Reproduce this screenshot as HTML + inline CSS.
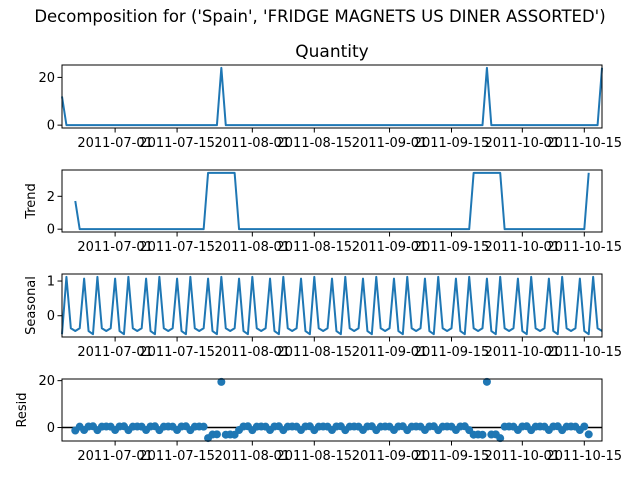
<!DOCTYPE html>
<html><head><meta charset="utf-8"><style>
body{margin:0;background:#fff}
svg{display:block;font-family:"DejaVu Sans","Liberation Sans",sans-serif}
</style></head><body>
<svg id="c" width="640" height="480"></svg>
<script>
const startDate = '2011-06-19';
const numDays = 123;
const obsSpikeIdx = [0, 36, 96, 122];
const obsSpikeVal = [12, 24, 24, 24];
const seasonalPattern = [-0.53, 1.12, -0.36, -0.44, -0.36, 1.07, -0.44];
const trendPeriod = 7;
const tickDates = ['2011-07-01','2011-07-15','2011-08-01','2011-08-15','2011-09-01','2011-09-15','2011-10-01','2011-10-15'];
const obsTicks = [0, 20];
const trendTicks = [0, 2];
const seasTicks = [0, 1];
const residTicks = [0, 20];

const NS='http://www.w3.org/2000/svg';
const svg=document.getElementById('c');
function mk(tag,attrs,parent){const e=document.createElementNS(NS,tag);for(const k in attrs)e.setAttribute(k,attrs[k]);(parent||svg).appendChild(e);return e;}
const dayMs=86400000;
const t0=Date.parse(startDate+'T00:00:00Z');
const obs=[];for(let i=0;i<numDays;i++)obs.push(0);
obsSpikeIdx.forEach((ix,k)=>{obs[ix]=obsSpikeVal[k];});
const half=Math.floor(trendPeriod/2);
const trend=obs.map((v,i)=>{if(i<half||i>=numDays-half)return null;let s=0;for(let j=i-half;j<=i+half;j++)s+=obs[j];return s/trendPeriod;});
const seas=obs.map((v,i)=>seasonalPattern[i%7]);
const resid=obs.map((v,i)=>trend[i]===null?null:v-trend[i]-seas[i]);

const L=62,R=602;
const xS=i=>L+i*(R-L)/(numDays-1);
const dateIdx=d=>(Date.parse(d+'T00:00:00Z')-t0)/dayMs;

const ft=mk('text',{x:320,y:22,'text-anchor':'middle','font-size':'16.5',fill:'#000'});


ft.textContent="Decomposition for ('Spain', 'FRIDGE MAGNETS US DINER ASSORTED')";

function panel(name,top,bot,vals,ticks,ylabel,ylx,title,scatter){
  const g=mk('g',{});
  
  
  const nn=vals.filter(v=>v!==null);
  let mn=Math.min(...nn),mx=Math.max(...nn);const m=(mx-mn)*0.05;mn-=m;mx+=m;
  const yS=v=>bot-(v-mn)/(mx-mn)*(bot-top);
  if(title){const t=mk('text',{x:332,y:top-8,'text-anchor':'middle','font-size':'17',fill:'#000'},g);t.textContent=title;}
  if(scatter){const z=mk('line',{x1:L,x2:R,y1:yS(0),y2:yS(0),stroke:'#000','stroke-width':1.5},g);}
  if(scatter){
    vals.forEach((v,i)=>{if(v===null)return;const c=mk('circle',{cx:xS(i),cy:yS(v),r:4,fill:'#1f77b4'},g);
      
      });
  } else {
    let d='',pen=false;
    vals.forEach((v,i)=>{if(v===null){pen=false;return;}d+=(pen?'L':'M')+xS(i).toFixed(2)+','+yS(v).toFixed(2);pen=true;});
    const p=mk('path',{d:d,fill:'none',stroke:'#1f77b4','stroke-width':2,'stroke-linejoin':'round'},g);
    
    
  }
  const fr=mk('rect',{x:L,y:top,width:R-L,height:bot-top,fill:'none',stroke:'#000','stroke-width':1},g);
  
  
  ticks.forEach(t=>{const y=yS(t);mk('line',{x1:L-4.5,x2:L,y1:y,y2:y,stroke:'#000'},g);
    const tx=mk('text',{x:L-7,y:y+4.5,'text-anchor':'end','font-size':'13',fill:'#000'},g);
    
    
    tx.textContent=t;});
  tickDates.forEach(d=>{const x=xS(dateIdx(d));mk('line',{x1:x,x2:x,y1:bot,y2:bot+4.5,stroke:'#000'},g);
    const tx=mk('text',{x:x,y:bot+19,'text-anchor':'middle','font-size':'13',fill:'#000'},g);
    
    
    tx.textContent=d;});
  if(ylabel){const cy=(top+bot)/2;const yl=mk('text',{x:0,y:0,transform:`translate(${ylx},${cy}) rotate(-90)`,'text-anchor':'middle','font-size':'13',fill:'#000'},g);
    
    
    yl.textContent=ylabel;}
}
panel('observed',65,128,obs,obsTicks,null,0,'Quantity',false);
panel('trend',170,232,trend,trendTicks,'Trend',35,null,false);
panel('seasonal',274,337,seas,seasTicks,'Seasonal',35,null,false);
panel('resid',379,441,resid,residTicks,'Resid',26,null,true);
</script>
</body></html>
